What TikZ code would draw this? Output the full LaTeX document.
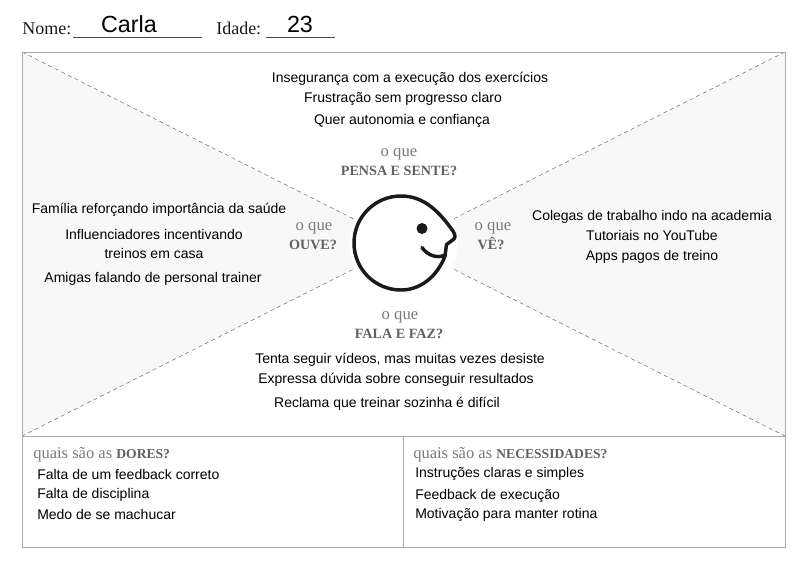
\documentclass[tikz,border=0pt]{standalone}
\usepackage{fontspec}
\setmainfont{Liberation Serif}
\newfontfamily\arialf{Liberation Sans}
\definecolor{framegray}{HTML}{ABABAB}
\definecolor{fillgray}{HTML}{F8F8F8}
\definecolor{labelgray}{HTML}{7A7A7A}
\definecolor{boldgray}{HTML}{616161}
\definecolor{dashgray}{HTML}{707070}
\definecolor{inkblack}{HTML}{1A1A1A}
\tikzset{
  note/.style={font=\arialf\fontsize{10.5}{12}\selectfont,text=black,inner sep=0pt,anchor=base},
  notel/.style={note,anchor=base west},
  big/.style={font=\arialf\fontsize{17.5}{18}\selectfont,text=black,inner sep=0pt,anchor=base},
  ask/.style={font=\fontsize{12.5}{13}\selectfont,text=labelgray,inner sep=0pt,anchor=base},
  askb/.style={font=\fontsize{10.6}{13}\selectfont\bfseries,text=boldgray,inner sep=0pt,anchor=base},
  askl/.style={font=\fontsize{12.4}{13}\selectfont,text=labelgray,inner sep=0pt,anchor=base west},
  head/.style={font=\fontsize{13.5}{13}\selectfont,text=inkblack,inner sep=0pt,anchor=base west},
  rule/.style={draw=framegray,line width=0.75pt},
  diag/.style={draw=dashgray,line width=0.4pt,dash pattern=on 3pt off 2.5pt},
  under/.style={draw=inkblack!80,line width=0.6pt},
  face/.style={draw=inkblack,line width=2.6pt,line cap=round,line join=round}
}
\begin{document}
\begin{tikzpicture}[x=0.75pt,y=-0.75pt]
\useasboundingbox (0,0) rectangle (800,565);
\fill[white] (0,0) rectangle (800,565);
% quadrants
\fill[fillgray] (22,52) -- (403.5,244) -- (22,436) -- cycle;
\fill[fillgray] (785,52) -- (403.5,244) -- (785,436) -- cycle;
\draw[diag] (22,52) -- (785,436);
\draw[diag] (785,52) -- (22,436);
\fill[white] (403.5,244) circle[radius=54];
% frame
\draw[rule] (22,52) rectangle (785,547);
\draw[rule] (22,436.5) -- (785,436.5);
\draw[rule] (403.5,436.5) -- (403.5,547);
% header
\node[head] (nome) at (22,34) {Nome:};
\draw[under] (73,37.5) -- (202,37.5);
\node[big] (carla) at (129,32) {Carla};
\node[head] (idade) at (216,34) {Idade:};
\draw[under] (266,37.5) -- (335,37.5);
\node[big] (age) at (300,32) {23};
% face
\draw[face] (445,256) .. controls (437,277) and (420,290) .. (401,290)
  .. controls (375,290) and (354,269) .. (354,243)
  .. controls (354,217) and (375,196) .. (401,196)
  .. controls (425,196) and (440,213) .. (453,231)
  .. controls (456,236) and (455.5,238.5) .. (452,240.5)
  -- (446.5,244.5) -- (445,256);
\draw[face] (422,247.5) .. controls (427,255) and (437,259) .. (445,255);
\fill[inkblack] (422,228.5) circle[radius=5.5];
% top
\node[note] (t1) at (410,82) {Insegurança com a execução dos exercícios};
\node[note] (t2) at (403,102) {Frustração sem progresso claro};
\node[note] (t3) at (402,124) {Quer autonomia e confiança};
\node[ask] (q1) at (399,156) {o que};
\node[askb] (q1b) at (399,175) {PENSA E SENTE?};
% left
\node[note] (l1) at (159,213) {Família reforçando importância da saúde};
\node[note] (l2) at (154,239) {Influenciadores incentivando};
\node[note] (l3) at (154,258) {treinos em casa};
\node[note] (l4) at (153,282) {Amigas falando de personal trainer};
\node[ask] (q2) at (314,230) {o que};
\node[askb] (q2b) at (313,249) {OUVE?};
% right
\node[note] (r1) at (652,220) {Colegas de trabalho indo na academia};
\node[note] (r2) at (652,240) {Tutoriais no YouTube};
\node[note] (r3) at (652,260) {Apps pagos de treino};
\node[ask] (q3) at (493,230) {o que};
\node[askb] (q3b) at (491,249) {VÊ?};
% bottom
\node[ask] (q4) at (400,319) {o que};
\node[askb] (q4b) at (399,338) {FALA E FAZ?};
\node[note] (b1) at (400,363) {Tenta seguir vídeos, mas muitas vezes desiste};
\node[note] (b2) at (396,383) {Expressa dúvida sobre conseguir resultados};
\node[note] (b3) at (387,407) {Reclama que treinar sozinha é difícil};
% pains
\node[askl] (d) at (33,458) {quais são as \textcolor{boldgray}{\fontsize{10.2}{13}\selectfont\bfseries DORES?}};
\node[notel] (d1) at (37,479) {Falta de um feedback correto};
\node[notel] (d2) at (37,498) {Falta de disciplina};
\node[notel] (d3) at (37,519) {Medo de se machucar};
% needs
\node[askl] (n) at (413,458) {quais são as \textcolor{boldgray}{\fontsize{10.2}{13}\selectfont\bfseries NECESSIDADES?}};
\node[notel] (n1) at (415,477) {Instruções claras e simples};
\node[notel] (n2) at (415,499) {Feedback de execução};
\node[notel] (n3) at (415,518) {Motivação para manter rotina};
\end{tikzpicture}
\end{document}
